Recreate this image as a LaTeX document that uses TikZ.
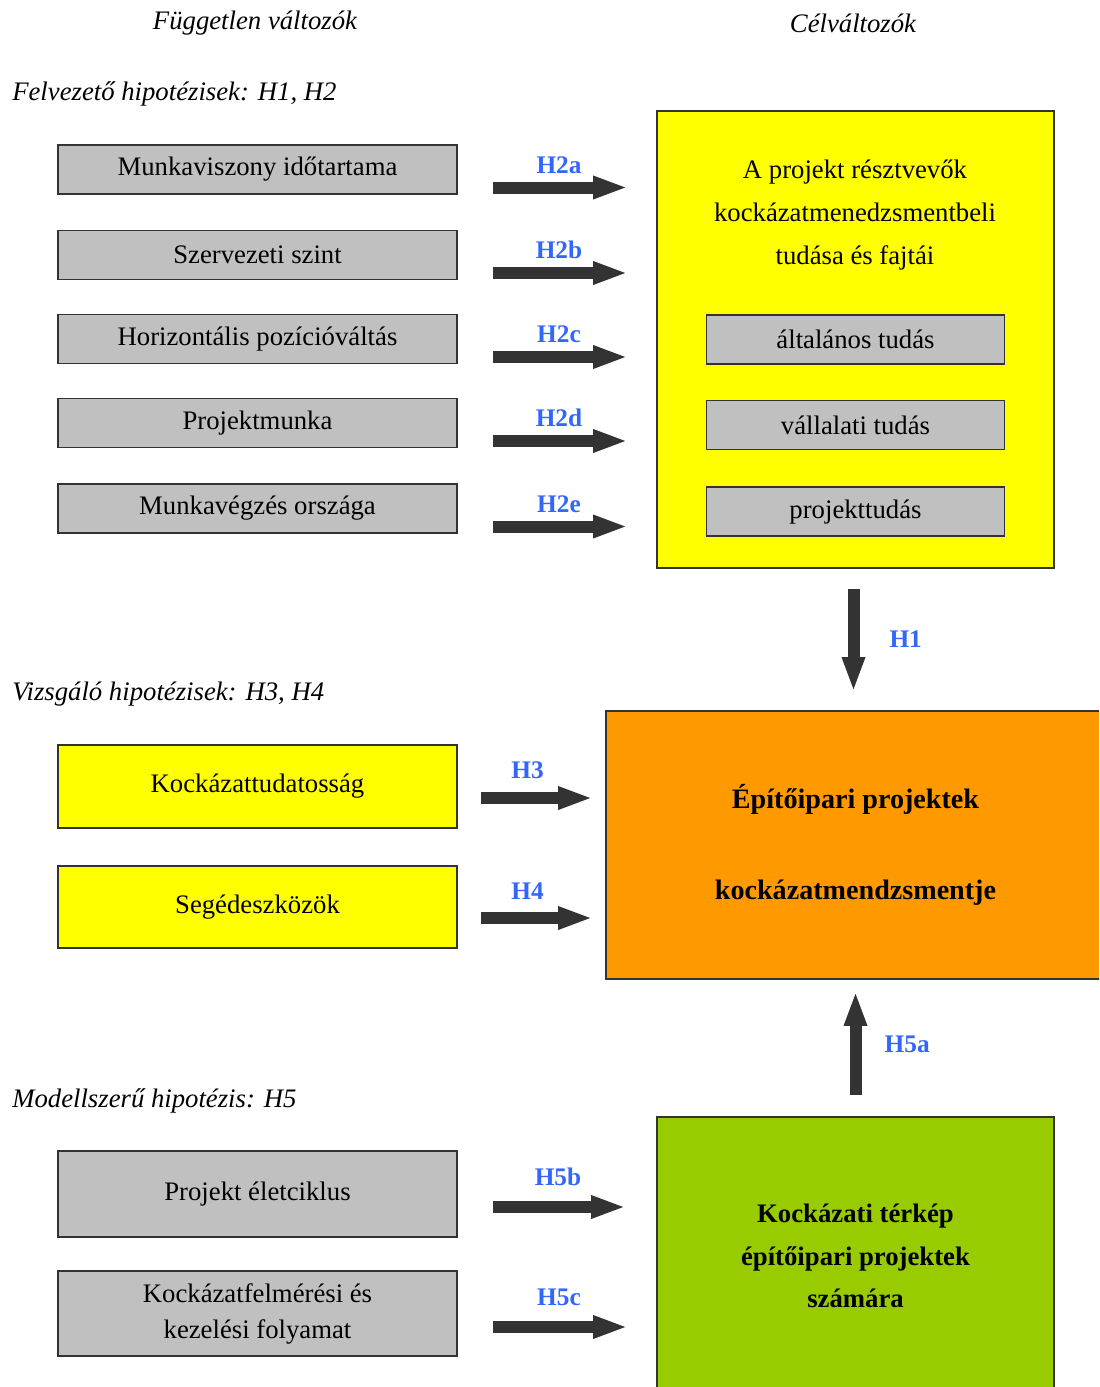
\documentclass[tikz,border=0pt]{standalone}
\usepackage{fontspec}
\setmainfont{Liberation Serif}
\usetikzlibrary{arrows.meta, positioning}
\definecolor{boxGray}{RGB}{192,192,192}
\definecolor{boxYellow}{RGB}{255,255,0}
\definecolor{boxOrange}{RGB}{255,153,0}
\definecolor{boxGreen}{RGB}{153,204,0}
\definecolor{arrowDark}{RGB}{51,51,51}
\definecolor{hypBlue}{RGB}{51,102,255}

\begin{document}
\begin{tikzpicture}[x=0.025cm, y=-0.025cm,
		every node/.style={font=\fontsize{19}{23}\selectfont},
		varbox/.style={draw=black!80, line width=1.1pt, minimum width=9.975cm, minimum height=1.225cm, inner sep=2pt, align=center},
		hyparrow/.style={draw=arrowDark, line width=0.3cm, -{Triangle[length=0.8cm, width=0.6cm, line width=0pt]}},
		hyplabel/.style={text=hypBlue, font=\fontsize{18}{20}\selectfont\bfseries, inner sep=0pt},
		heading/.style={font=\fontsize{19}{23}\selectfont\itshape, anchor=west, inner sep=0pt}]
		\clip (0,0) rectangle (1099,1387);
		\fill[white] (0,0) rectangle (1099,1387);
		% Column titles
		\node[font=\fontsize{19}{23}\selectfont\itshape] (indep) at (255,23) {Független változók};
		\node[font=\fontsize{19}{23}\selectfont\itshape] (target) at (853,23) {Célváltozók};
		% Leading hypotheses (H1, H2)
		\node[heading] (lead) at (12,94) {Felvezető hipotézisek: H1, H2};
		\node[varbox, fill=boxYellow, minimum width=9.925cm, minimum height=11.425cm] (know) at (855.5,339.5) {};
		\node[align=center, font=\fontsize{19}{30.6}\selectfont] (knowtitle) at (855,215) {A projekt résztvevők\\kockázatmenedzsmentbeli\\tudása és fajtái};
		\node[varbox, fill=boxGray, minimum width=7.45cm] (kgen) at (855.5,339.5) {általános tudás};
		\node[varbox, fill=boxGray, minimum width=7.45cm, below=0.875cm of kgen] (kcomp) {vállalati tudás};
		\node[varbox, fill=boxGray, minimum width=7.45cm, below=0.9cm of kcomp] (kproj) {projekttudás};
		\foreach \i/\y/\txt/\lab in {1/169.5/Munkaviszony időtartama/H2a, 2/255/Szervezeti szint/H2b, 3/339/Horizontális pozícióváltás/H2c, 4/423/Projektmunka/H2d, 5/508.5/Munkavégzés országa/H2e} {
			\node[varbox, fill=boxGray] (lead\i) at (257.5,\y) {\txt};
			\draw[hyparrow] ([shift={(35,18)}]lead\i.east) -- ([shift={(-31,18)}]lead\i.east -| know.west)
				node[hyplabel, midway, above=0.2cm] {\lab};
		}
		% Examining hypotheses (H3, H4)
		\node[heading] (test) at (12,694) {Vizsgáló hipotézisek: H3, H4};
		\node[varbox, fill=boxOrange, minimum width=12.475cm, minimum height=6.7cm, font=\fontsize{20}{64.7}\selectfont\bfseries] (rm) at (855.5,845) {Építőipari projektek\\kockázatmendzsmentje};
		\node[varbox, fill=boxYellow, minimum height=2.075cm] (aware) at (257.5,786.5) {Kockázattudatosság};
		\node[varbox, fill=boxYellow, minimum height=2.05cm] (tools) at (257.5,907) {Segédeszközök};
		\draw[hyparrow] ([shift={(23,11.5)}]aware.east) -- ([shift={(-15,11.5)}]aware.east -| rm.west)
			node[hyplabel, midway, above=0.32cm, xshift=-0.2cm] {H3};
		\draw[hyparrow] ([shift={(23,11)}]tools.east) -- ([shift={(-15,11)}]tools.east -| rm.west)
			node[hyplabel, midway, above=0.32cm, xshift=-0.2cm] {H4};
		\draw[hyparrow] ([shift={(-2,20)}]know.south) -- ([shift={(-2,-21)}]know.south |- rm.north)
			node[hyplabel, midway, right=0.75cm] {H1};
		% Model hypothesis (H5)
		\node[heading] (model) at (12,1101) {Modellszerű hipotézis: H5};
		\node[varbox, fill=boxGreen, minimum width=9.925cm, minimum height=6.95cm, font=\fontsize{19}{30}\selectfont\bfseries] (map) at (855.5,1256) {Kockázati térkép\\építőipari projektek\\számára};
		\node[varbox, fill=boxGray, minimum height=2.15cm] (cycle) at (257.5,1194) {Projekt életciklus};
		\node[varbox, fill=boxGray, minimum height=2.125cm, font=\fontsize{19}{25.6}\selectfont] (process) at (257.5,1313.5) {Kockázatfelmérési és\\kezelési folyamat};
		\draw[hyparrow] ([shift={(35,13)}]cycle.east) -- ([shift={(-33,13)}]cycle.east -| map.west)
			node[hyplabel, midway, above=0.37cm] {H5b};
		\draw[hyparrow] ([shift={(35,13.5)}]process.east) -- ([shift={(-31,13.5)}]process.east -| map.west)
			node[hyplabel, midway, above=0.37cm] {H5c};
		\draw[hyparrow] ([shift={(0,-21)}]map.north) -- ([shift={(0,14)}]map.north |- rm.south)
			node[hyplabel, midway, right=0.58cm] {H5a};
	\end{tikzpicture}
\end{document}
